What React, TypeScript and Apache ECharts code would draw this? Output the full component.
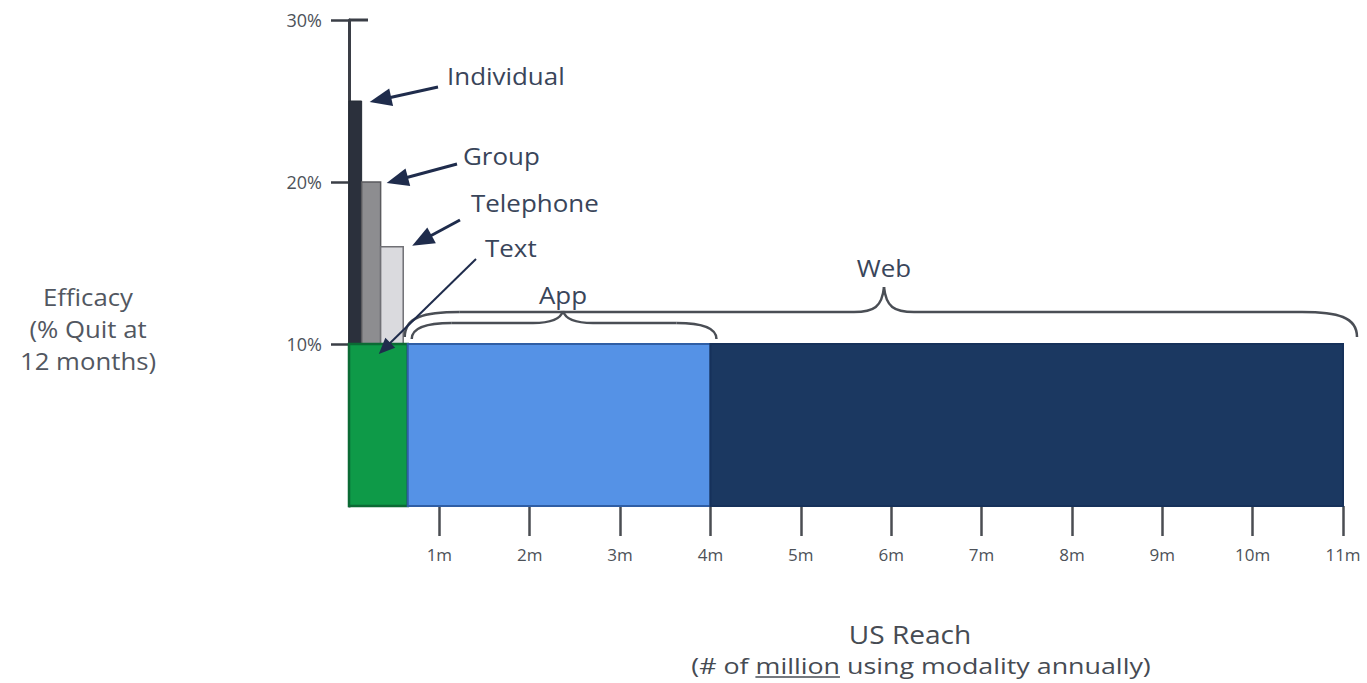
import React, { useEffect, useRef } from 'react';
import * as echarts from 'echarts';

// ---- data ----
const modalities = ['Individual', 'Group', 'Telephone', 'Text', 'App', 'Web'];
const reachStart = [0, 0.14, 0.35, 0, 0.65, 4.0];
const reachEnd = [0.14, 0.35, 0.6, 0.65, 4.0, 11.0];
const efficacy = [25, 20, 16, 10, 10, 10];
const xTickValues = [1, 2, 3, 4, 5, 6, 7, 8, 9, 10, 11];
const xTickLabels = ['1m', '2m', '3m', '4m', '5m', '6m', '7m', '8m', '9m', '10m', '11m'];
const yTickValues = [10, 20, 30];
const yTickLabels = ['10%', '20%', '30%'];

// ---- styles ----
const fills = ['#2b303c', '#8d8d90', '#dadade', '#0e9a48', '#5592e6', '#1b3861'];
const strokes = ['#252a35', '#5a5a5e', '#707075', '#0b6a34', '#2f5ea5', '#16315a'];
const strokeWidths = [1, 1.5, 1.5, 2.5, 2, 2];
const FONT = '"Open Sans", "Noto Sans", sans-serif';
const ARROW = '#1f2c4c';
const BRACE = '#4a4e55';
const ANN = '#39455a';

function measure(text: string, size: number): number {
  const c = document.createElement('canvas').getContext('2d');
  if (!c) return text.length * size * 0.5;
  c.font = `${size}px "Open Sans"`;
  return c.measureText(text).width;
}

function arrow(x1: number, y1: number, x2: number, y2: number, len = 20, half = 8, w = 3) {
  const dx = x2 - x1, dy = y2 - y1;
  const d = Math.sqrt(dx * dx + dy * dy);
  const ux = dx / d, uy = dy / d;
  const bx = x2 - ux * len, by = y2 - uy * len;
  const px = -uy, py = ux;
  return [
    { type: 'line', shape: { x1, y1, x2: bx + ux * 2, y2: by + uy * 2 }, style: { stroke: ARROW, lineWidth: w }, z: 20 },
    {
      type: 'polygon',
      shape: { points: [[x2, y2], [bx + px * half, by + py * half], [bx - px * half, by - py * half]] },
      style: { fill: ARROW },
      z: 20,
    },
  ];
}

function brace(x0: number, x1: number, xm: number, yb: number, yh: number, yt: number, r: number) {
  const st = { stroke: BRACE, lineWidth: 2.5, fill: 'none' };
  const t = 30;
  return [
    { type: 'bezierCurve', shape: { x1: x0, y1: yb, cpx1: x0, cpy1: yh + 5, cpx2: x0 + r * 0.35, cpy2: yh, x2: x0 + r, y2: yh }, style: st, z: 15 },
    { type: 'line', shape: { x1: x0 + r, y1: yh, x2: xm - t, y2: yh }, style: st, z: 15 },
    { type: 'bezierCurve', shape: { x1: xm - t, y1: yh, cpx1: xm - 10, cpy1: yh, cpx2: xm - 2, cpy2: yh - 5, x2: xm, y2: yt }, style: st, z: 15 },
    { type: 'bezierCurve', shape: { x1: xm, y1: yt, cpx1: xm + 2, cpy1: yh - 5, cpx2: xm + 10, cpy2: yh, x2: xm + t, y2: yh }, style: st, z: 15 },
    { type: 'line', shape: { x1: xm + t, y1: yh, x2: x1 - r, y2: yh }, style: st, z: 15 },
    { type: 'bezierCurve', shape: { x1: x1 - r, y1: yh, cpx1: x1 - r * 0.35, cpy1: yh, cpx2: x1, cpy2: yh + 5, x2: x1, y2: yb }, style: st, z: 15 },
  ];
}

export default function App() {
  const ref = useRef<HTMLDivElement>(null);
  useEffect(() => {
    if (!ref.current) return;
    const chart = echarts.init(ref.current, null, { renderer: 'svg' });
    const data = modalities.map((m, i) => ({ name: m, value: [reachStart[i], reachEnd[i], efficacy[i], i] }));
    chart.setOption({
      animation: false,
      backgroundColor: '#ffffff',
      grid: { left: 349, right: 24, top: 20, bottom: 177 },
      xAxis: {
        type: 'value',
        min: 0,
        max: 11,
        interval: 1,
        axisLine: { show: false },
        splitLine: { show: false },
        axisTick: { show: true, customValues: xTickValues, length: 30, lineStyle: { color: '#4a4d52', width: 2.5 } },
        axisLabel: {
          customValues: xTickValues,
          formatter: (v: number) => xTickLabels[xTickValues.indexOf(v)] ?? '',
          fontSize: 17,
          color: '#4d5259',
          fontFamily: FONT,
          margin: 40,
        },
      },
      yAxis: {
        type: 'value',
        min: 0,
        max: 30,
        interval: 10,
        splitLine: { show: false },
        axisLine: { show: true, lineStyle: { color: '#3a3e46', width: 3 } },
        axisTick: { show: true, customValues: yTickValues, length: 18, lineStyle: { color: '#3a3e46', width: 2.5 } },
        axisLabel: {
          customValues: yTickValues,
          formatter: (v: number) => yTickLabels[yTickValues.indexOf(v)] ?? '',
          fontSize: 18,
          color: '#4d5259',
          fontFamily: FONT,
          margin: 27,
        },
      },
      series: [
        {
          type: 'custom',
          encode: { x: [0, 1], y: 2 },
          data,
          z: 5,
          renderItem: (params: any, api: any) => {
            const s = api.value(0), e = api.value(1), v = api.value(2), idx = api.value(3);
            const p0 = api.coord([s, v]);
            const p1 = api.coord([e, 0]);
            return {
              type: 'rect',
              shape: { x: p0[0], y: p0[1], width: p1[0] - p0[0], height: p1[1] - p0[1] },
              style: { fill: fills[idx], stroke: strokes[idx], lineWidth: strokeWidths[idx] },
            };
          },
        },
      ],
    });

    const X = (v: number) => chart.convertToPixel({ xAxisIndex: 0 }, v) as number;
    const Y = (v: number) => chart.convertToPixel({ yAxisIndex: 0 }, v) as number;

    const x0 = X(0);
    const y30 = Y(30);
    const sub = '(# of million using modality annually)';
    const subSize = 22;
    const subScale = 1.22;
    const subW = measure(sub, subSize) * subScale;
    const subCx = 921;
    const subStart = subCx - subW / 2;
    const ulStart = subStart + measure('(# of ', subSize) * subScale;
    const ulEnd = ulStart + measure('million', subSize) * subScale;

    const textBase = { fontFamily: FONT, fill: ANN };
    const sx = 1.08;
    const graphic: any[] = [
      // cap on top of y axis
      { type: 'line', shape: { x1: x0, y1: y30, x2: x0 + 19, y2: y30 }, style: { stroke: '#3a3e46', lineWidth: 3 }, z: 10 },
      // y axis title
      {
        type: 'text', x: 88, y: 329, scaleX: 1.12,
        style: { text: 'Efficacy\n(% Quit at\n12 months)', fontSize: 23, lineHeight: 32, fill: '#525761', fontFamily: FONT, align: 'center', verticalAlign: 'middle' },
      },
      // x axis title
      { type: 'text', x: 910, y: 634, scaleX: 1.08, style: { text: 'US Reach', fontSize: 26, fill: '#464b53', fontFamily: FONT, align: 'center', verticalAlign: 'middle' } },
      { type: 'text', x: subCx, y: 665, scaleX: subScale, style: { text: sub, fontSize: subSize, fill: '#464b53', fontFamily: FONT, align: 'center', verticalAlign: 'middle' } },
      { type: 'line', shape: { x1: ulStart, y1: 677, x2: ulEnd, y2: 677 }, style: { stroke: '#464b53', lineWidth: 1.5 } },
      // annotations
      { type: 'text', x: 447, y: 75, scaleX: sx, style: { ...textBase, text: 'Individual', fontSize: 24, verticalAlign: 'middle' } },
      { type: 'text', x: 463, y: 155, scaleX: sx, style: { ...textBase, text: 'Group', fontSize: 24, verticalAlign: 'middle' } },
      { type: 'text', x: 471, y: 202, scaleX: sx, style: { ...textBase, text: 'Telephone', fontSize: 24, verticalAlign: 'middle' } },
      { type: 'text', x: 485, y: 247, scaleX: sx, style: { ...textBase, text: 'Text', fontSize: 24, verticalAlign: 'middle' } },
      { type: 'text', x: 563, y: 294, scaleX: sx, style: { ...textBase, text: 'App', fontSize: 24, align: 'center', verticalAlign: 'middle' } },
      { type: 'text', x: 884, y: 267, scaleX: sx, style: { ...textBase, text: 'Web', fontSize: 24, align: 'center', verticalAlign: 'middle' } },
      ...arrow(438, 87, X(reachEnd[0]) + 8, Y(efficacy[0]) + 1, 22, 9),
      ...arrow(457, 164, X(reachEnd[1]) + 6, Y(efficacy[1]) + 1, 22, 9),
      ...arrow(460, 220, X(reachEnd[2]) + 9, Y(efficacy[2]) - 1, 22, 9),
      ...arrow(476, 259, X(0.33), Y(efficacy[3]) + 10, 16, 7, 2),
      // braces
      ...brace(X(reachStart[4]) + 4, X(reachEnd[4]) + 6, 563, 339, 323, 311, 40),
      ...brace(X(reachStart[4]) - 3, X(reachEnd[5]) + 14, 884, 337, 312, 287, 55),
    ];
    chart.setOption({ graphic });
    return () => chart.dispose();
  }, []);
  return (
    <div
      ref={ref}
      style={{ position: 'fixed', left: 0, top: 0, width: 1367, height: 683, background: '#fff' }}
    />
  );
}
